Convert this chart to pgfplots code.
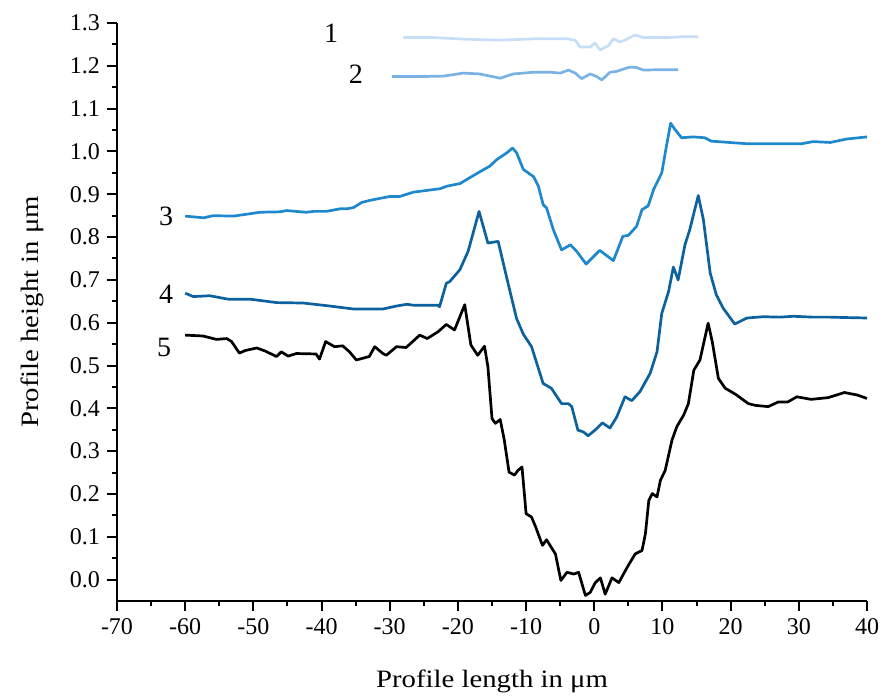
\documentclass[border=0pt]{standalone}
\usepackage{fontspec}
\setmainfont{Liberation Serif}
\newfontfamily\labfont{Liberation Serif}[FakeStretch=1.15]
\usepackage{pgfplots}
\pgfplotsset{compat=1.18}

\definecolor{cone}{RGB}{198,222,246}
\definecolor{ctwo}{RGB}{122,178,228}
\definecolor{cthree}{RGB}{30,136,204}
\definecolor{cfour}{RGB}{12,98,158}

\begin{document}
\begin{tikzpicture}
\useasboundingbox (-58.5pt,-48.5pt) rectangle (383pt,300.5pt);
\begin{axis}[
    scale only axis,
    width=375pt, height=289pt,
    xmin=-70, xmax=40,
    ymin=-0.05, ymax=1.3,
    axis x line=bottom, axis y line=left,
    axis line style={-, line width=1pt},
    xtick={-70,-60,-50,-40,-30,-20,-10,0,10,20,30,40},
    xticklabels={-70,-60,-50,-40,-30,-20,-10,0,10,20,30,40},
    ytick={0,0.1,0.2,0.3,0.4,0.5,0.6,0.7,0.8,0.9,1.0,1.1,1.2,1.3},
    yticklabels={0.0,0.1,0.2,0.3,0.4,0.5,0.6,0.7,0.8,0.9,1.0,1.1,1.2,1.3},
    minor x tick num=1, minor y tick num=1,
    tick align=outside,
    major tick length=5pt, minor tick length=2.5pt,
    tick style={line width=1pt, black},
    ticklabel style={font=\fontsize{12}{14}\selectfont},
    xlabel={Profile length in μm},
    ylabel={Profile height in μm},
    label style={font=\labfont\fontsize{12.5}{14}\selectfont},
    xlabel style={at={(axis description cs:0.5,-0.1488)}, anchor=base},
    ylabel style={at={(axis description cs:-0.104,0.5)}, anchor=base},
    every axis plot/.append style={line width=1.35pt, line join=round},
]
% 1
\addplot[cone] coordinates {
(-28.0,1.266)(-23.6,1.266)(-18.7,1.262)(-13.8,1.260)(-8.9,1.263)(-4.05,1.263)
(-2.8,1.260)(-2.1,1.244)(-0.6,1.244)(0.1,1.253)(0.84,1.237)(2.06,1.247)(2.8,1.263)
(3.77,1.256)(4.5,1.260)(5.98,1.272)(7.2,1.266)(10.6,1.266)(13.06,1.268)(15.26,1.268)
};
% 2
\addplot[ctwo] coordinates {
(-29.7,1.175)(-25.1,1.175)(-22.1,1.176)(-19.2,1.183)(-16.8,1.181)(-13.8,1.171)
(-11.9,1.181)(-8.9,1.185)(-6.5,1.185)(-5.0,1.183)(-3.8,1.190)(-2.8,1.183)
(-1.85,1.170)(-0.6,1.181)(0.35,1.175)(1.1,1.167)(2.3,1.185)(3.3,1.187)(4.0,1.191)
(5.2,1.197)(6.2,1.196)(7.2,1.190)(9.6,1.191)(12.3,1.191)
};
% 3
\addplot[cthree] coordinates {
(-60.0,0.849)(-57.3,0.845)(-55.9,0.850)(-52.9,0.849)(-49.0,0.858)(-46.1,0.859)
(-45.1,0.862)(-43.1,0.859)(-42.2,0.858)(-41.2,0.860)(-39.3,0.860)(-37.3,0.866)
(-36.3,0.866)(-35.3,0.869)(-34.1,0.881)(-33.1,0.885)(-31.9,0.889)(-29.9,0.895)
(-28.5,0.895)(-26.5,0.905)(-22.6,0.913)(-21.6,0.919)(-19.7,0.925)(-17.7,0.944)
(-15.3,0.966)(-14.3,0.981)(-12.8,0.997)(-12.0,1.008)(-11.4,0.997)(-10.4,0.958)
(-9.7,0.950)(-8.9,0.941)(-8.2,0.919)(-7.5,0.876)(-7.0,0.868)(-6.0,0.817)
(-4.8,0.770)(-3.5,0.782)(-2.6,0.767)(-1.2,0.737)(0.8,0.769)(2.8,0.745)
(4.2,0.802)(5.0,0.804)(6.2,0.825)(7.0,0.864)(7.9,0.873)(8.7,0.911)(9.9,0.950)
(10.5,1.005)(11.2,1.066)(11.8,1.052)(12.8,1.032)(14.5,1.034)(16.2,1.032)
(17.2,1.024)(22.4,1.018)(27.2,1.018)(30.4,1.018)(32.1,1.023)(34.6,1.021)
(37.0,1.029)(40.0,1.034)
};
% 4
\addplot[cfour] coordinates {
(-60.0,0.669)(-58.8,0.661)(-56.4,0.663)(-53.7,0.655)(-50.5,0.655)(-46.6,0.647)
(-42.7,0.646)(-38.8,0.639)(-35.3,0.632)(-31.0,0.632)(-29.0,0.639)(-27.5,0.643)
(-26.6,0.641)(-22.9,0.641)(-22.7,0.637)(-21.7,0.692)(-21.2,0.696)(-19.7,0.724)
(-18.5,0.767)(-16.9,0.860)(-15.6,0.786)(-14.1,0.790)(-12.6,0.689)(-11.4,0.610)
(-10.4,0.573)(-9.2,0.544)(-7.5,0.458)(-6.3,0.447)(-4.8,0.411)(-3.8,0.411)
(-3.3,0.404)(-2.4,0.349)(-1.6,0.345)(-0.9,0.336)(0.1,0.349)(1.2,0.366)
(2.3,0.354)(3.3,0.380)(4.5,0.427)(5.5,0.418)(6.7,0.439)(8.2,0.482)(9.2,0.532)
(9.9,0.622)(10.9,0.673)(11.6,0.730)(12.3,0.700)(13.3,0.782)(14.0,0.817)
(15.25,0.897)(16.0,0.841)(17.0,0.716)(17.9,0.665)(18.9,0.634)(20.6,0.597)
(22.4,0.611)(24.8,0.614)(27.2,0.613)(29.2,0.615)(32.1,0.613)(34.6,0.613)
(37.0,0.612)(40.0,0.611)
};
% 5
\addplot[black] coordinates {
(-60.0,0.571)(-57.4,0.569)(-55.4,0.561)(-53.9,0.563)(-53.2,0.556)(-52.05,0.529)
(-51.2,0.535)(-49.5,0.541)(-48.3,0.534)(-46.6,0.521)(-45.9,0.532)(-44.9,0.522)
(-43.7,0.528)(-40.8,0.527)(-40.3,0.515)(-39.4,0.556)(-38.1,0.544)(-36.9,0.546)
(-35.9,0.532)(-34.9,0.513)(-33.0,0.521)(-32.2,0.544)(-31.0,0.528)(-30.5,0.524)
(-29.0,0.544)(-27.6,0.542)(-25.6,0.571)(-24.5,0.563)(-22.9,0.579)(-21.7,0.596)
(-20.5,0.583)(-19.0,0.642)(-18.1,0.548)(-17.1,0.524)(-16.1,0.545)(-15.6,0.497)
(-15.0,0.376)(-14.5,0.365)(-13.8,0.374)(-13.2,0.326)(-12.5,0.251)(-11.7,0.244)
(-11.2,0.255)(-10.6,0.263)(-10.0,0.154)(-9.2,0.146)(-8.6,0.123)(-7.6,0.080)
(-7.0,0.093)(-5.7,0.060)(-4.9,-0.002)(-4.0,0.017)(-3.0,0.013)(-2.3,0.017)
(-1.3,-0.037)(-0.6,-0.030)(0.15,-0.007)(0.9,0.004)(1.6,-0.034)(2.6,0.004)
(3.6,-0.007)(4.8,0.028)(6.0,0.060)(7.0,0.068)(7.5,0.107)(8.0,0.185)(8.5,0.201)
(9.2,0.193)(9.7,0.232)(10.4,0.255)(11.4,0.326)(12.1,0.357)(13.1,0.384)
(13.8,0.411)(14.6,0.489)(15.5,0.513)(16.7,0.599)(17.3,0.556)(18.2,0.470)
(19.2,0.447)(20.7,0.433)(22.6,0.411)(23.6,0.407)(25.5,0.404)(27.0,0.415)
(28.4,0.415)(29.7,0.427)(31.8,0.421)(34.3,0.425)(36.7,0.437)(38.6,0.431)
(40.0,0.423)
};
% curve numbers
\node[font=\fontsize{14}{16}\selectfont] at (axis cs:-38.6,1.276) {1};
\node[font=\fontsize{14}{16}\selectfont] at (axis cs:-34.95,1.180) {2};
\node[font=\fontsize{14}{16}\selectfont] at (axis cs:-62.8,0.848) {3};
\node[font=\fontsize{14}{16}\selectfont] at (axis cs:-62.8,0.667) {4};
\node[font=\fontsize{14}{16}\selectfont] at (axis cs:-63.1,0.543) {5};
\end{axis}
\end{tikzpicture}
\end{document}
